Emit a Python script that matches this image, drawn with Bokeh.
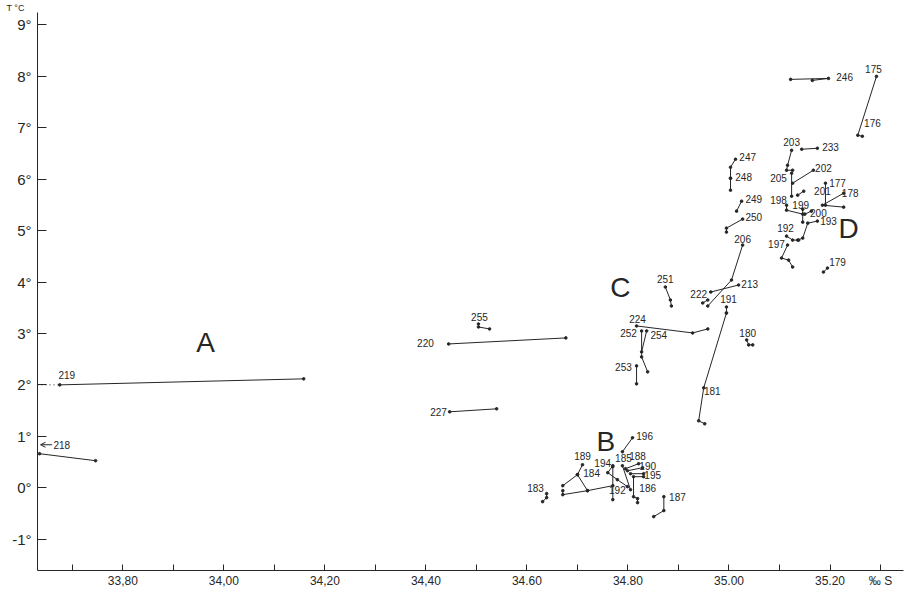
from bokeh.plotting import figure
from bokeh.models import ColumnDataSource, FixedTicker, Arrow, OpenHead, Title
from bokeh.core.properties import value
from bokeh.embed import file_html
from bokeh.resources import INLINE

# ---- data: salinity (per mille) / temperature (deg C) tracks ----
LINE_SAL = [
    [33.675, 34.158], [33.635, 33.746], [34.445, 34.677], [34.504, 34.504, 34.526],
    [34.447, 34.540], [34.874, 34.884, 34.886], [34.995, 34.950, 34.940, 34.952],
    [34.995, 34.995], [35.027, 35.005, 34.958], [34.964, 35.019], [34.948, 34.958],
    [34.817, 34.928, 34.958], [34.827, 34.827, 34.839], [34.837, 34.827],
    [34.817, 34.817], [35.035, 35.039, 35.047], [35.122, 35.197, 35.165],
    [35.292, 35.255, 35.264], [35.124, 35.116, 35.114, 35.126], [35.144, 35.175],
    [35.124, 35.124], [35.126, 35.167], [35.136, 35.148], [35.191, 35.191],
    [35.227, 35.185, 35.227], [35.114, 35.114, 35.146], [35.146, 35.146],
    [35.150, 35.163], [35.175, 35.156, 35.146, 35.136], [35.114, 35.126, 35.138],
    [35.116, 35.104, 35.118, 35.126], [35.187, 35.195], [35.013, 35.003, 35.003],
    [35.003, 35.003], [35.025, 35.015], [35.027, 34.995, 34.995],
    [34.809, 34.789], [34.710, 34.700], [34.671, 34.700, 34.720],
    [34.671, 34.671, 34.720, 34.770], [34.639, 34.639, 34.631],
    [34.770, 34.760, 34.779, 34.799], [34.770, 34.770], [34.789, 34.805],
    [34.821, 34.795], [34.829, 34.799], [34.831, 34.805],
    [34.831, 34.811, 34.811, 34.819, 34.819], [34.871, 34.871, 34.851],
]
LINE_TEMP = [
    [2.000, 2.117], [0.661, 0.525], [2.796, 2.913], [3.185, 3.126, 3.088],
    [1.476, 1.534], [3.903, 3.651, 3.534], [3.398, 1.942, 1.301, 1.243],
    [3.515, 3.398], [4.719, 4.039, 3.534], [3.806, 3.942], [3.593, 3.651],
    [3.146, 3.010, 3.088], [3.049, 2.544, 2.253], [3.049, 2.641],
    [2.369, 2.020], [2.874, 2.777, 2.777], [7.942, 7.961, 7.922],
    [8.000, 6.855, 6.835], [6.563, 6.272, 6.175, 6.175], [6.583, 6.602],
    [6.117, 5.670], [5.923, 6.175], [5.690, 5.767], [5.923, 5.495],
    [5.728, 5.495, 5.457], [5.495, 5.398, 5.321], [5.418, 5.165],
    [5.321, 5.379], [5.185, 5.146, 4.855, 4.816], [4.893, 4.816, 4.816],
    [4.719, 4.466, 4.427, 4.292], [4.194, 4.272], [6.389, 6.233, 6.020],
    [6.020, 5.787], [5.573, 5.379], [5.224, 5.049, 4.971],
    [0.971, 0.699], [0.447, 0.253], [0.039, 0.253, -0.058],
    [-0.058, -0.136, -0.058, 0.039], [-0.116, -0.194, -0.272],
    [0.427, 0.292, 0.156, 0.020], [0.408, -0.233], [0.427, -0.039],
    [0.466, 0.369], [0.388, 0.330], [0.272, 0.272],
    [0.214, 0.214, -0.175, -0.213, -0.291], [-0.175, -0.446, -0.563],
]

# station numbers and where they are written
STATION = ["219", "218", "220", "255", "227", "251", "181", "191", "206", "213",
           "222", "224", "252", "254", "253", "180", "246", "175", "176", "203",
           "233", "205", "202", "201", "177", "178", "198", "199", "200", "193",
           "192", "197", "179", "247", "248", "249", "250", "196", "189", "184",
           "183", "194", "192", "185", "188", "190", "195", "186", "187"]
STATION_SAL = [33.689, 33.679, 34.399, 34.506, 34.425, 34.874, 34.967, 34.999, 35.027, 35.041,
               34.940, 34.819, 34.801, 34.861, 34.791, 35.037, 35.229, 35.286, 35.284, 35.124,
               35.201, 35.098, 35.187, 35.185, 35.215, 35.240, 35.098, 35.142, 35.177, 35.197,
               35.112, 35.094, 35.215, 35.037, 35.029, 35.049, 35.049, 34.833, 34.710, 34.728,
               34.617, 34.750, 34.779, 34.791, 34.819, 34.839, 34.849, 34.839, 34.898]
STATION_TEMP = [2.194, 0.835, 2.816, 3.321, 1.476, 4.059, 1.884, 3.670, 4.835, 3.961,
                3.767, 3.282, 3.010, 2.971, 2.350, 3.010, 7.981, 8.136, 7.088, 6.718,
                6.621, 6.020, 6.214, 5.767, 5.923, 5.728, 5.593, 5.495, 5.340, 5.185,
                5.049, 4.738, 4.389, 6.427, 6.039, 5.612, 5.262, 1.010, 0.621, 0.291,
                0.000, 0.486, -0.039, 0.583, 0.621, 0.427, 0.253, 0.000, -0.175]

# water-mass groups
GROUP = ["A", "B", "C", "D"]
GROUP_SAL = [33.964, 34.756, 34.785, 35.237]
GROUP_TEMP = [2.816, 0.893, 3.903, 5.049]

# axis ticks
SAL_TICKS = [33.7, 33.8, 33.9, 34.0, 34.1, 34.2, 34.3, 34.4, 34.5, 34.6, 34.7,
             34.8, 34.9, 35.0, 35.1, 35.2, 35.3]
SAL_TICK_LABELS = {33.8: "33,80", 34.0: "34,00", 34.2: "34,20", 34.4: "34,40",
                   34.6: "34.60", 34.8: "34.80", 35.0: "35.00", 35.2: "35.20",
                   35.3: "\u2030 S"}
TEMP_TICKS = [-1, 0, 1, 2, 3, 4, 5, 6, 7, 8, 9]

FONT = "Liberation Sans"
INK = "#262626"

p = figure(width=905, height=590, output_backend="svg", toolbar_location=None,
           x_range=(33.631, 35.3455), y_range=(-1.611, 9.243),
           min_border_left=37, min_border_right=2, min_border_top=12, min_border_bottom=19)
p.grid.visible = False
p.outline_line_color = None
p.background_fill_color = "white"

title = Title(text="T \u00b0C", align="left", offset=-31, standoff=0,
              text_font=FONT, text_font_size="9px", text_font_style="normal",
              text_color=INK)
p.add_layout(title, "above")

# axes
p.xaxis.ticker = FixedTicker(ticks=SAL_TICKS)
p.xaxis.major_label_overrides = {t: SAL_TICK_LABELS.get(round(t, 1), "") for t in SAL_TICKS}
p.yaxis.ticker = FixedTicker(ticks=TEMP_TICKS)
p.yaxis.major_label_overrides = {t: f"{t}\u00b0" for t in TEMP_TICKS}
for ax in (p.xaxis, p.yaxis):
    ax.axis_line_color = INK
    ax.major_tick_line_color = INK
    ax.minor_tick_line_color = None
    ax.major_tick_out = 0
    ax.major_label_text_font = FONT
    ax.major_label_text_color = INK
p.xaxis.major_tick_in = 6
p.yaxis.major_tick_in = 9
p.xaxis.major_label_text_font_size = "12px"
p.xaxis.major_label_standoff = 3
p.yaxis.major_label_text_font_size = "15px"
p.yaxis.major_label_standoff = 6

# tracks
p.multi_line(xs=LINE_SAL, ys=LINE_TEMP, line_color=INK, line_width=1)
px = [s for line in LINE_SAL for s in line]
py = [t for line in LINE_TEMP for t in line]
p.scatter(px, py, size=2.6, color=INK)

# dotted continuation of 219 to the axis
p.line([33.631, LINE_SAL[0][0]], [LINE_TEMP[0][0], LINE_TEMP[0][0]],
       line_color=INK, line_width=1, line_dash="1 3")

# arrow of station 218 (off scale)
p.add_layout(Arrow(end=OpenHead(size=5, line_color=INK, line_width=1),
                   x_start=33.660, y_start=STATION_TEMP[1], x_end=33.637, y_end=STATION_TEMP[1],
                   line_color=INK, line_width=1))

src = ColumnDataSource(dict(x=STATION_SAL, y=STATION_TEMP, t=STATION))
p.text(x="x", y="y", text="t", source=src, text_font=value(FONT), text_font_size="10px",
       text_align="center", text_baseline="middle", text_color=INK)

gsrc = ColumnDataSource(dict(x=GROUP_SAL, y=GROUP_TEMP, t=GROUP))
p.text(x="x", y="y", text="t", source=gsrc, text_font=value(FONT), text_font_size="28px",
       text_align="center", text_baseline="middle", text_color=INK)

open("out.html", "w").write(file_html(p, INLINE))
